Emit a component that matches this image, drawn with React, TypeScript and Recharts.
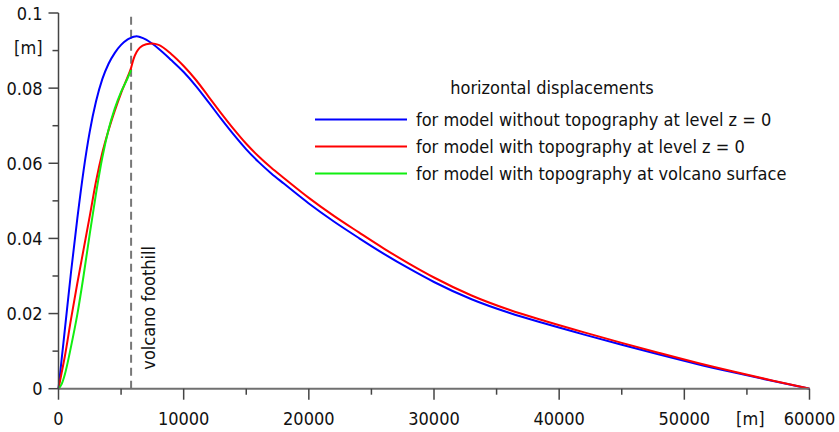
import { LineChart, Line, XAxis, YAxis, ReferenceLine, Legend } from 'recharts';

// distance from the volcano axis [m]
const distance = [
  0, 250, 500, 1000, 1500, 2000, 2500, 3000, 3500, 4000, 4500, 5000, 5500, 5800, 6000, 6250, 6500, 7000, 7500, 8000,
  9000, 10000, 11000, 12000, 13000, 14000, 15000, 16000, 17000, 18000, 20000, 22000, 24000, 26000, 28000, 30000,
  33000, 36000, 39000, 42000, 45000, 48000, 51000, 54000, 57000, 60000,
];

// horizontal displacement [m]
const withoutTopoLevel = [
  0, 0.0078, 0.0155, 0.031, 0.0452, 0.058, 0.0685, 0.0765, 0.0824, 0.0865, 0.0894, 0.0915, 0.0929, 0.0934, 0.0937,
  0.0938, 0.0936, 0.0929, 0.0918, 0.0905, 0.0875, 0.0843, 0.0805, 0.0762, 0.0718, 0.0676, 0.0637, 0.0603, 0.0573,
  0.0546, 0.0493, 0.0445, 0.0401, 0.0359, 0.032, 0.0284, 0.0238, 0.0202, 0.0172, 0.0144, 0.0117, 0.0091, 0.0066,
  0.0043, 0.0021, 0,
];
const withTopoLevel = [
  0, 0.0042, 0.0085, 0.0185, 0.028, 0.037, 0.046, 0.0552, 0.0628, 0.0688, 0.074, 0.0787, 0.0828, 0.0854, 0.0878,
  0.0897, 0.0908, 0.0917, 0.0919, 0.0915, 0.0891, 0.0859, 0.0821, 0.0777, 0.0733, 0.0691, 0.0652, 0.0618, 0.0588,
  0.0561, 0.0508, 0.046, 0.0416, 0.0373, 0.0333, 0.0296, 0.0248, 0.021, 0.0179, 0.015, 0.0122, 0.0095, 0.0069,
  0.0045, 0.0022, 0,
];
// only defined on the volcano, up to the foothill
const withTopoSurface = [
  0, 0.0012, 0.0037, 0.0112, 0.0197, 0.03, 0.0413, 0.052, 0.0615, 0.069, 0.0746, 0.079, 0.0825, 0.0848,
];

const seriesNames = [
  'for model without topography at level z = 0',
  'for model with topography at level z = 0',
  'for model with topography at volcano surface',
];

const FOOTHILL = 5800;

const xTicks = [0, 5000, 10000, 15000, 20000, 25000, 30000, 35000, 40000, 45000, 50000, 55000, 60000];
const yTicks = [0, 0.01, 0.02, 0.03, 0.04, 0.05, 0.06, 0.07, 0.08, 0.09, 0.1];
const yTickLabels = ['0', '', '0.02', '', '0.04', '', '0.06', '', '0.08', '[m]', '0.1'];

const data = distance.map((x, i) => ({
  x,
  blue: withoutTopoLevel[i],
  red: withTopoLevel[i],
  green: i < withTopoSurface.length ? withTopoSurface[i] : null,
}));

const FONT = "'DejaVu Sans Condensed', 'DejaVu Sans', sans-serif";
const textStyle = { fontFamily: FONT, fontStretch: 'condensed', fontSize: 18, fill: '#111' } as const;

function XTick({ x, y, payload }: any) {
  const major = payload.value % 10000 === 0;
  return (
    <g>
      <line x1={x} x2={x} y1={y} y2={y + (major ? 11 : 6)} stroke="#444" strokeWidth={1.5} />
      {major && (
        <text x={x} y={y + 36} textAnchor="middle" style={textStyle}>
          {payload.value}
        </text>
      )}
      {payload.value === 60000 && (
        <text x={x - 45} y={y + 36} textAnchor="end" style={textStyle}>
          [m]
        </text>
      )}
    </g>
  );
}

function YTick({ x, y, payload }: any) {
  const i = yTicks.indexOf(payload.value);
  const label = yTickLabels[i];
  return (
    <g>
      <line x1={x - (i % 2 === 0 ? 10 : 6)} x2={x} y1={y} y2={y} stroke="#444" strokeWidth={1.5} />
      {label && (
        <text x={x - 16} y={y + (label === '[m]' ? 3 : 6.5)} textAnchor="end" style={textStyle}>
          {label}
        </text>
      )}
    </g>
  );
}

function FoothillLabel({ viewBox }: any) {
  const bx = viewBox.x + 24;
  const by = viewBox.y + viewBox.height - 19;
  return (
    <text x={bx} y={by} transform={`rotate(-90, ${bx}, ${by})`} style={textStyle}>
      volcano foothill
    </text>
  );
}

function DisplacementLegend({ payload }: any) {
  const items = [...(payload || [])].sort(
    (a: any, b: any) => seriesNames.indexOf(a.value) - seriesNames.indexOf(b.value)
  );
  return (
    <svg width={839} height={190}>
      <text x={552} y={94} textAnchor="middle" style={textStyle}>
        horizontal displacements
      </text>
      {items.map((entry: any, i: number) => (
        <g key={entry.value}>
          <line x1={315} x2={407} y1={119.5 + 27 * i} y2={119.5 + 27 * i} stroke={entry.color} strokeWidth={2} />
          <text x={416} y={126 + 27 * i} style={textStyle}>
            {entry.value}
          </text>
        </g>
      ))}
    </svg>
  );
}

export default function App() {
  return (
    <div style={{ position: 'absolute', left: 0, top: 0, background: '#fff' }}>
      <LineChart width={839} height={432} data={data} margin={{ top: 13, right: 29.5, bottom: 0, left: 0 }}>
        <XAxis
          dataKey="x"
          type="number"
          domain={[0, 60000]}
          ticks={xTicks}
          interval={0}
          height={43.3}
          tickSize={0}
          tickMargin={0}
          tick={<XTick />}
          axisLine={{ stroke: '#707070', strokeWidth: 2 }}
        />
        <YAxis
          type="number"
          domain={[0, 0.1]}
          ticks={yTicks}
          interval={0}
          width={58.5}
          tickSize={0}
          tickMargin={0}
          tick={<YTick />}
          axisLine={{ stroke: '#444', strokeWidth: 1.5 }}
        />
        <ReferenceLine
          x={FOOTHILL}
          stroke="#777"
          strokeWidth={2}
          strokeDasharray="8 5"
          label={<FoothillLabel />}
        />
        <Legend
          layout="vertical"
          align="center"
          verticalAlign="middle"
          content={<DisplacementLegend />}
          wrapperStyle={{ left: 0, top: 0, width: 839, height: 190, pointerEvents: 'none' }}
        />
        <Line
          type="monotone"
          dataKey="blue"
          name={seriesNames[0]}
          stroke="#0000ff"
          strokeWidth={2}
          dot={false}
          isAnimationActive={false}
        />
        <Line
          type="monotone"
          dataKey="red"
          name={seriesNames[1]}
          stroke="#ff0000"
          strokeWidth={2}
          dot={false}
          isAnimationActive={false}
        />
        <Line
          type="monotone"
          dataKey="green"
          name={seriesNames[2]}
          stroke="#11ee11"
          strokeWidth={2}
          dot={false}
          isAnimationActive={false}
        />
      </LineChart>
    </div>
  );
}
